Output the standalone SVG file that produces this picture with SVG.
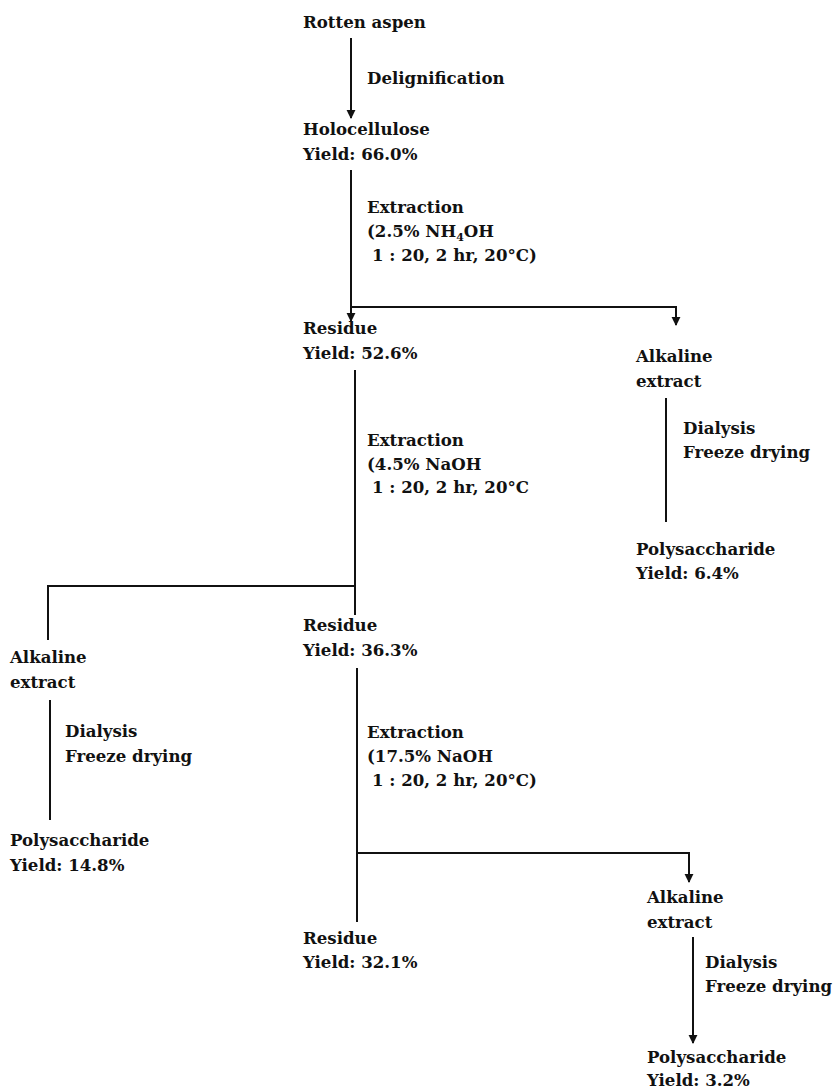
<svg xmlns="http://www.w3.org/2000/svg" width="834" height="1088" viewBox="0 0 834 1088">
<style>
text{font-family:"DejaVu Serif","Liberation Serif",serif;font-weight:bold;font-size:16.6px;fill:#111}
.c{fill:none;stroke:#111;stroke-width:2}
.sub{font-size:11px}
</style>
<defs>
<marker id="ah" viewBox="0 0 10 10" refX="9" refY="5" markerWidth="9" markerHeight="10" markerUnits="userSpaceOnUse" orient="auto">
<path d="M0,0 L10,5 L0,10 z" fill="#111"/>
</marker>
</defs>
<rect width="834" height="1088" fill="#fff"/>
<g id="connectors">
<path class="c" d="M351,38 V118" marker-end="url(#ah)"/>
<path class="c" d="M351,170 V321" marker-end="url(#ah)"/>
<path class="c" d="M351,307 H676 V325" marker-end="url(#ah)"/>
<path class="c" d="M666,398 V522"/>
<path class="c" d="M355,370 V615"/>
<path class="c" d="M355,586 H48 V640"/>
<path class="c" d="M50,700 V820"/>
<path class="c" d="M357,668 V922"/>
<path class="c" d="M357,853 H689 V882" marker-end="url(#ah)"/>
<path class="c" d="M693,937 V1043" marker-end="url(#ah)"/>
</g>
<g id="n-rotten"><text x="303" y="28">Rotten aspen</text></g>
<g id="l-delig"><text x="367" y="84">Delignification</text></g>
<g id="n-holo"><text x="303" y="135">Holocellulose</text><text x="303" y="160">Yield: 66.0%</text></g>
<g id="l-ext1"><text x="367" y="213">Extraction</text><text x="367" y="237">(2.5% NH<tspan class="sub" dy="4">4</tspan><tspan dy="-4">OH</tspan></text><text x="372" y="261">1 : 20, 2 hr, 20°C)</text></g>
<g id="n-res1"><text x="303" y="334">Residue</text><text x="303" y="359">Yield: 52.6%</text></g>
<g id="n-alk1"><text x="636" y="362">Alkaline</text><text x="636" y="387">extract</text></g>
<g id="l-dial1"><text x="683" y="434">Dialysis</text><text x="683" y="458">Freeze drying</text></g>
<g id="n-poly1"><text x="636" y="555">Polysaccharide</text><text x="636" y="579">Yield: 6.4%</text></g>
<g id="l-ext2"><text x="367" y="446">Extraction</text><text x="367" y="470">(4.5% NaOH</text><text x="372" y="493">1 : 20, 2 hr, 20°C</text></g>
<g id="n-res2"><text x="303" y="631">Residue</text><text x="303" y="656">Yield: 36.3%</text></g>
<g id="n-alk2"><text x="10" y="663">Alkaline</text><text x="10" y="688">extract</text></g>
<g id="l-dial2"><text x="65" y="737">Dialysis</text><text x="65" y="762">Freeze drying</text></g>
<g id="n-poly2"><text x="10" y="846">Polysaccharide</text><text x="10" y="871">Yield: 14.8%</text></g>
<g id="l-ext3"><text x="367" y="738">Extraction</text><text x="367" y="762">(17.5% NaOH</text><text x="372" y="786">1 : 20, 2 hr, 20°C)</text></g>
<g id="n-res3"><text x="303" y="944">Residue</text><text x="303" y="968">Yield: 32.1%</text></g>
<g id="n-alk3"><text x="647" y="903">Alkaline</text><text x="647" y="928">extract</text></g>
<g id="l-dial3"><text x="705" y="968">Dialysis</text><text x="705" y="992">Freeze drying</text></g>
<g id="n-poly3"><text x="647" y="1063">Polysaccharide</text><text x="647" y="1086">Yield: 3.2%</text></g>
</svg>
